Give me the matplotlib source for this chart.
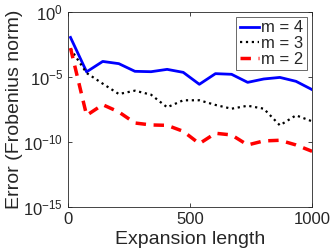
import matplotlib
matplotlib.use("Agg")
import matplotlib.pyplot as plt
import numpy as np

plt.rcParams['font.family'] = ['Liberation Sans', 'DejaVu Sans']

expansion_length = [10, 76, 142, 208, 274, 340, 406, 472, 538, 604, 670, 736, 802, 868, 934, 1000]
log_err_m4 = [-1.95, -4.6, -3.8, -3.97, -4.56, -4.59, -4.41, -4.64, -5.56, -4.74, -4.79, -5.41, -5.15, -5.03, -5.33, -5.97]
log_err_m3 = [-2.82, -4.69, -5.51, -6.31, -6.05, -6.36, -7.33, -6.79, -6.79, -7.15, -7.44, -7.21, -7.44, -8.72, -7.95, -8.41]
log_err_m2 = [-2.77, -7.95, -7.13, -7.69, -8.54, -8.69, -8.72, -9.18, -10.13, -9.33, -9.46, -10.23, -9.92, -9.87, -10.23, -10.72]

err_m4 = 10.0 ** np.array(log_err_m4)
err_m3 = 10.0 ** np.array(log_err_m3)
err_m2 = 10.0 ** np.array(log_err_m2)

fig = plt.figure(figsize=(3.32, 2.52), dpi=100)
ax = fig.add_axes([0.205, 0.179, 0.735, 0.773])

ax.semilogy(expansion_length, err_m4, color='#0000ff', lw=2.0, ls='-', label='m = 4')
ax.semilogy(expansion_length, err_m3, color='black', lw=1.6, ls=':', label='m = 3')
ax.semilogy(expansion_length, err_m2, color='#ff0000', lw=2.5, ls=(0, (3, 2.2)), label='m = 2')

ax.set_xlim(0, 1000)
ax.set_ylim(1e-15, 1)
ax.set_xticks([0, 500, 1000])
ax.set_yticks([1e-15, 1e-10, 1e-5, 1])
ax.yaxis.set_minor_locator(matplotlib.ticker.NullLocator())
ax.tick_params(direction='in', length=3, top=True, right=True, labelsize=12, colors='#262626', width=0.6)
for s in ax.spines.values():
    s.set_color('#262626')
    s.set_linewidth(0.6)

ax.set_xlabel('Expansion length', fontsize=14, color='#262626', labelpad=3)
ax.set_ylabel('Error (Frobenius norm)', fontsize=14, color='#262626', labelpad=0)

leg = ax.legend(loc='upper right', fontsize=12, frameon=True, fancybox=False,
                handlelength=1.15, handletextpad=0.15, borderpad=0.2, labelspacing=0.05,
                borderaxespad=0.3, edgecolor='#262626')
leg.get_frame().set_linewidth(0.6)
for t in leg.get_texts():
    t.set_color('#262626')

fig.savefig('out.png', dpi=100)
